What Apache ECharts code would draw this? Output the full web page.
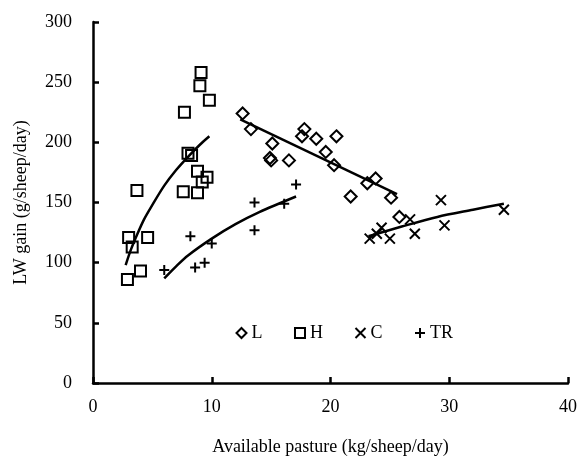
<!DOCTYPE html>
<html>
<head>
<meta charset="utf-8">
<script src="https://cdn.jsdelivr.net/npm/echarts@6/dist/echarts.min.js"></script>
<style>
  html, body { margin: 0; padding: 0; background: #fff; }
  #chart { width: 577px; height: 458px; }
</style>
</head>
<body>
<div id="chart"></div>
<script>
// data: [available pasture, LW gain]
var seriesNames = ['L', 'H', 'C', 'TR'];

var pointsL = [
    [12.6, 224], [13.3, 211], [15.1, 199], [14.9, 187], [15.0, 185],
    [16.5, 185], [17.8, 211], [17.6, 205], [18.8, 203], [20.5, 205],
    [19.6, 192], [20.3, 181], [21.7, 155], [23.1, 166], [23.8, 170],
    [25.1, 154], [25.8, 138]
];
var pointsH = [
    [9.1, 258], [9.0, 247], [9.8, 235], [7.7, 225], [8.0, 191],
    [8.3, 189], [8.8, 176], [9.6, 171], [9.2, 167], [7.6, 159],
    [8.8, 158], [3.7, 160], [3.0, 121], [4.6, 121], [3.3, 113],
    [4.0, 93], [2.9, 86]
];
var pointsC = [
    [23.3, 120], [23.9, 124], [24.3, 129], [25.0, 120], [26.7, 136],
    [27.1, 124], [29.3, 152], [29.6, 131], [34.6, 144]
];
var pointsTR = [
    [17.1, 165], [13.6, 150], [16.1, 149], [13.6, 127], [8.2, 122],
    [10.0, 116], [9.4, 100], [8.6, 96], [6.0, 94]
];

// fitted trend lines as they appear in the figure
var trendL = [[12.4, 219], [25.6, 157]];
var trendH = [[2.75, 98], [3.2, 111], [3.7, 123], [4.3, 136], [5, 148], [6, 164], [7, 177], [8, 188], [9, 198], [9.8, 205]];
var trendC = [[23.2, 122], [26, 130], [29, 138], [32, 144], [34.6, 149]];
var trendTR = [[6, 87], [7, 97], [8, 106], [10, 120], [12, 132], [14, 142], [17.1, 155]];

var font = '"Liberation Serif", "Times New Roman", serif';

function scatter(name, data, symbol, size) {
    return {
        name: name,
        type: 'scatter',
        data: data,
        symbol: symbol,
        symbolSize: size,
        itemStyle: {
            color: 'none',
            borderColor: '#000',
            borderWidth: 2,
            opacity: 1
        },
        z: 3
    };
}

function trend(data) {
    return {
        type: 'line',
        data: data,
        smooth: 0.3,
        symbol: 'none',
        silent: true,
        lineStyle: { color: '#000', width: 2.5 },
        z: 4
    };
}

echarts.init(document.getElementById('chart')).setOption({
    animation: false,
    backgroundColor: '#fff',
    textStyle: { fontFamily: font },
    grid: { left: 93, right: 9, top: 22, bottom: 75, outerBoundsMode: 'none', containLabel: false },
    legend: {
        data: seriesNames,
        left: 229,
        top: 319,
        itemWidth: 10,
        itemHeight: 10,
        itemGap: 30,
        textStyle: { fontFamily: font, fontSize: 18, color: '#000' }
    },
    xAxis: {
        type: 'value',
        min: 0,
        max: 40,
        interval: 10,
        name: 'Available pasture (kg/sheep/day)',
        nameLocation: 'middle',
        nameGap: 55,
        nameTextStyle: { fontFamily: font, fontSize: 18, color: '#000' },
        axisLine: { lineStyle: { color: '#000', width: 2.5 } },
        axisTick: { inside: true, length: 6, lineStyle: { color: '#000', width: 2.5 } },
        axisLabel: { fontFamily: font, fontSize: 18, color: '#000', margin: 15 },
        splitLine: { show: false }
    },
    yAxis: {
        type: 'value',
        min: 0,
        max: 300,
        interval: 50,
        name: 'LW gain (g/sheep/day)',
        nameLocation: 'middle',
        nameGap: 63,
        nameTextStyle: { fontFamily: font, fontSize: 18, color: '#000' },
        axisLine: { show: true, lineStyle: { color: '#000', width: 2.5 } },
        axisTick: { show: true, inside: true, length: 6, lineStyle: { color: '#000', width: 2.5 } },
        axisLabel: { fontFamily: font, fontSize: 18, color: '#000', margin: 21 },
        splitLine: { show: false }
    },
    series: [
        scatter('L', pointsL, 'diamond', 12),
        scatter('H', pointsH, 'rect', 11),
        scatter('C', pointsC, 'path://M0,0L10,10M10,0L0,10', 10),
        scatter('TR', pointsTR, 'path://M5,0L5,10M0,5L10,5', 10),
        trend(trendL),
        trend(trendH),
        trend(trendC),
        trend(trendTR)
    ]
});
</script>
</body>
</html>
